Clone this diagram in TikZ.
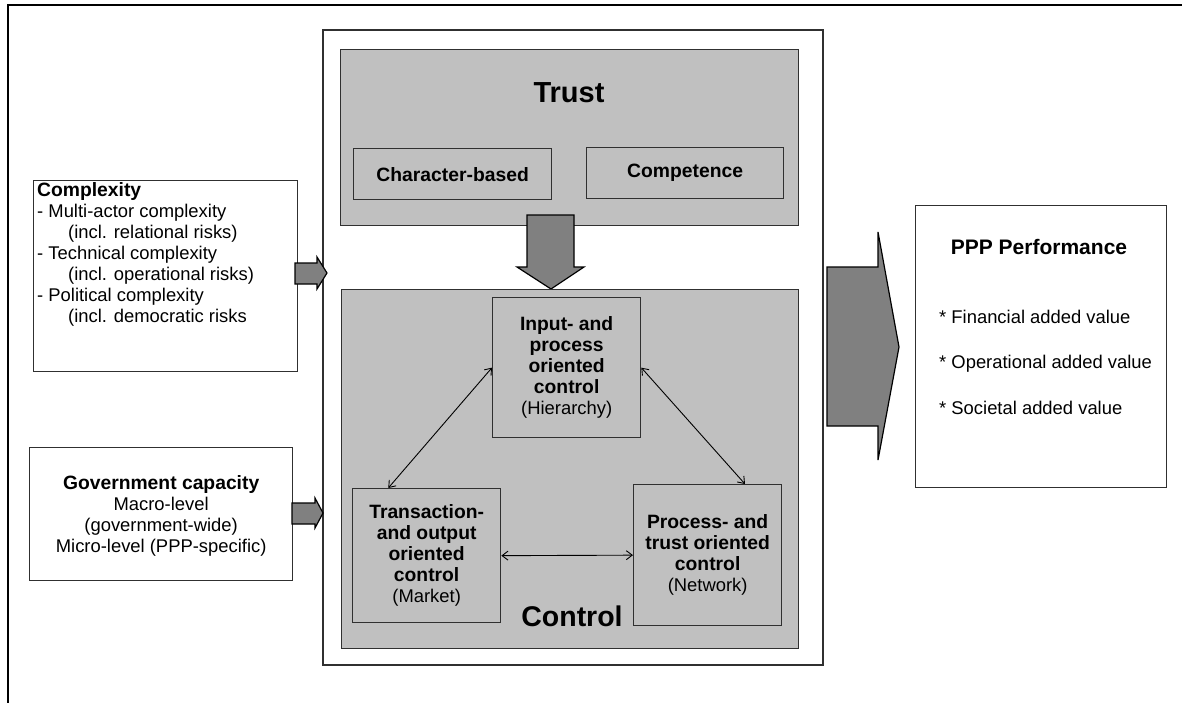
\documentclass[tikz,border=0pt]{standalone}
\usepackage{fontspec}
\setmainfont{Liberation Sans}
\usetikzlibrary{arrows.meta,calc}
\definecolor{boxgray}{HTML}{C0C0C0}
\definecolor{arrowgray}{HTML}{808080}
\definecolor{edgegray}{HTML}{303030}
\newcommand{\regtext}{\fontsize{18.4}{21}\selectfont}
\newcommand{\boldtext}{\fontsize{19.3}{21}\selectfont\bfseries}
\begin{document}
\begin{tikzpicture}[x=1pt,y=-1pt,
  panel/.style={draw=edgegray,line width=1.3pt,fill=boxgray,inner sep=0pt,anchor=north west},
  whitebox/.style={draw=edgegray,line width=1.3pt,fill=white,inner sep=0pt,anchor=north west},
  fatarrow/.style={draw=black,line width=1.2pt,fill=arrowgray,line join=miter},
  link/.style={draw=black,line width=0.9pt,{Straight Barb[length=6pt,width=9pt]}-{Straight Barb[length=6pt,width=9pt]}},
  lbl/.style={inner sep=0pt,align=center,font=\regtext}
]
\useasboundingbox (0,0) rectangle (1182,702);
\fill[white] (0,0) rectangle (1182,702);
% outer frame
\draw[line width=2.5pt,line cap=rect] (8,702) -- (8,5) -- (1182,5);

% middle white box
\node[whitebox,line width=1.5pt,minimum width=500pt,minimum height=635pt] (mid) at (322,29) {};

% trust
\node[panel,minimum width=458pt,minimum height=176pt] (trust) at (340,49) {};
\node[lbl,font=\fontsize{29}{30}\selectfont\bfseries] (trustlbl) at (569,93) {Trust};
\node[panel,minimum width=198pt,minimum height=51pt] (charb) at (353,148) {};
\node[lbl,font=\boldtext] (charlbl) at (charb.center) {Character-based};
\node[panel,minimum width=197pt,minimum height=51pt] (comp) at (586,147) {};
\node[lbl,font=\boldtext] (complbl) at (comp.center) {Competence};

% down arrow trust -> control
\draw[fatarrow] (527,215) -- (574,215) -- (574,267) -- (584,267) -- (551,289) -- (517,267) -- (527,267) -- cycle;

% control
\node[panel,minimum width=457pt,minimum height=359pt] (control) at (341,289) {};
\node[lbl,font=\fontsize{28.5}{30}\selectfont\bfseries] (controllbl) at (572,616) {Control};

\node[panel,minimum width=148pt,minimum height=140pt] (hier) at (492,297) {};
\node[lbl] (hierlbl) at (hier.center) {{\boldtext Input- and}\\{\boldtext process}\\{\boldtext oriented}\\{\boldtext control}\\(Hierarchy)};

\node[panel,minimum width=148pt,minimum height=134pt] (market) at (352,488) {};
\node[lbl] (marketlbl) at (market.center) {{\boldtext Transaction-}\\{\boldtext and output}\\{\boldtext oriented}\\{\boldtext control}\\(Market)};

\node[panel,minimum width=148pt,minimum height=141pt] (network) at (633,484) {};
\node[lbl] (networklbl) at (network.center) {{\boldtext Process- and}\\{\boldtext trust oriented}\\{\boldtext control}\\(Network)};

\draw[link] (hier.west) -- ($(market.north west)!0.243!(market.north east)$);
\draw[link] (hier.east) -- ($(network.north west)!0.75!(network.north east)$);
\draw[link] (market.east) -- (network.west);

% complexity
\node[whitebox,minimum width=264pt,minimum height=191pt] (cplx) at (33,180) {};
\node[inner sep=0pt,anchor=north west,align=left,font=\regtext] (cplxlbl) at (37,182)
 {{\boldtext Complexity}\\- Multi-actor complexity\\\hspace*{31pt}(incl. relational risks)\\- Technical complexity\\\hspace*{31pt}(incl. operational risks)\\- Political complexity\\\hspace*{31pt}(incl. democratic risks};
\draw[fatarrow] (295,263) -- (317,263) -- (317,257) -- (327,273) -- (317,289) -- (317,284) -- (295,284) -- cycle;

% government capacity
\node[whitebox,minimum width=263pt,minimum height=133pt] (gov) at (29,447) {};
\node[lbl] (govlbl) at ($(gov.center)+(0,2)$) {{\boldtext Government capacity}\\Macro-level\\(government-wide)\\Micro-level (PPP-specific)};
\draw[fatarrow] (292,503) -- (315,503) -- (315,498) -- (323,513) -- (315,528) -- (315,524) -- (292,524) -- cycle;

% big arrow to performance
\draw[fatarrow] (827,267) -- (878,267) -- (878,232) -- (899,347) -- (878,460) -- (878,426) -- (827,426) -- cycle;

% PPP performance
\node[whitebox,minimum width=251pt,minimum height=282pt] (ppp) at (915,205) {};
\node[lbl,font=\fontsize{21}{24}\selectfont\bfseries] (ppptitle) at (1039,247) {PPP Performance};
\node[inner sep=0pt,anchor=west,font=\regtext] (fin) at (939,317) {* Financial added value};
\node[inner sep=0pt,anchor=west,font=\regtext] (ops) at (939,364) {* Operational added value};
\node[inner sep=0pt,anchor=west,font=\regtext] (soc) at (939,408) {* Societal added value};
\end{tikzpicture}
\end{document}
